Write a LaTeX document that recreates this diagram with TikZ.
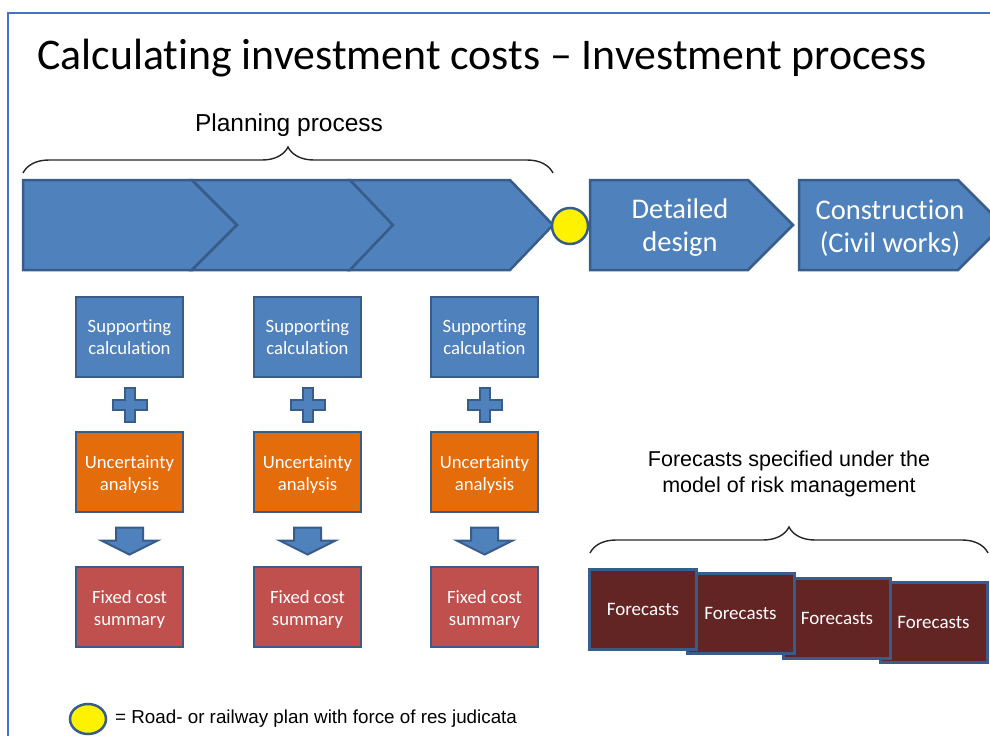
\documentclass[tikz,border=0pt]{standalone}
\usepackage{fontspec}
\setmainfont{Carlito}[Ligatures=NoCommon]
\newfontfamily\arialfont{Liberation Sans}
\usetikzlibrary{shapes.geometric,decorations.pathreplacing,calc}

\definecolor{boxblue}{HTML}{4F81BD}
\definecolor{edgeblue}{HTML}{385D8A}
\definecolor{boxorange}{HTML}{E46C0A}
\definecolor{boxred}{HTML}{C0504D}
\definecolor{forered}{HTML}{632523}
\definecolor{frameblue}{HTML}{4472C4}

\tikzset{
  calcbox/.style={draw=edgeblue, line width=2.5pt, minimum width=107pt, minimum height=80pt,
    inner sep=0pt, text=white, align=center, font=\fontsize{18.7}{22.5}\selectfont},
  supbox/.style={calcbox, fill=boxblue},
  uncbox/.style={calcbox, fill=boxorange},
  fixbox/.style={calcbox, fill=boxred},
  forebox/.style={calcbox, fill=forered, line width=3pt, font=\fontsize{19}{22}\selectfont},
  chev/.style={fill=boxblue, draw=edgeblue, line width=2.5pt},
  chevtext/.style={text=white, align=center, font=\fontsize{28.5}{33}\selectfont},
  blockshape/.style={fill=boxblue, draw=edgeblue, line width=2pt},
  curly/.style={decorate, decoration={brace, amplitude=26pt}, line width=1.4pt, draw=black!85},
  lawmark/.style={fill=yellow, draw=edgeblue, line width=2.5pt},
}
\newcommand{\lowstrut}{\rule{0pt}{18pt}}

\begin{document}
\begin{tikzpicture}[x=1pt,y=-1pt]
\useasboundingbox (0,0) rectangle (990,736);
\clip (0,0) rectangle (990,736);
\draw[frameblue, line width=1.5pt] (8,736) -- (8,13) -- (990,13);

\node[anchor=base west, inner sep=0pt, font=\fontsize{43.8}{50}\selectfont] (title) at (37,69)
  {Calculating investment costs -- Investment process};

% planning process
\node[anchor=base, font=\arialfont\fontsize{24.5}{28}\selectfont] (plan) at (289,131) {Planning process};
\draw[curly] (23,173) -- (553,173);
\draw[chev] (23,180) -- (192,180) -- (237,225) -- (192,270) -- (23,270) -- cycle;
\draw[chev] (192,180) -- (350,180) -- (393,225) -- (350,270) -- (192,270) -- (237,225) -- cycle;
\draw[chev] (350,180) -- (510,180) -- (553,225) -- (510,270) -- (350,270) -- (393,225) -- cycle;
\node[lawmark, circle, minimum size=36pt, inner sep=0pt] (res) at (570,226) {};

\draw[chev] (590,180) -- (748,180) -- (793,225) -- (748,270) -- (590,270) -- cycle;
\node[chevtext] (det) at (680,228) {Detailed\\design};
\draw[chev] (799,180) -- (958,180) -- (1003,225) -- (958,270) -- (799,270) -- cycle;
\node[chevtext] (con) at (890,228) {Construction\\(Civil works)};

\foreach \i/\xx in {1/129.5, 2/307.5, 3/484.5} {
  \node[supbox] (sup\i) at (\xx,337) {Supporting\\calculation};
  \node[uncbox] (unc\i) at (\xx,472) {\lowstrut Uncertainty\\analysis};
  \node[fixbox] (fix\i) at (\xx,607) {\lowstrut Fixed cost\\summary};
  \draw[blockshape] ($(sup\i.south)!0.5!(unc\i.north)$) ++(-5,-17) -- ++(10,0) -- ++(0,12)
    -- ++(12,0) -- ++(0,10) -- ++(-12,0) -- ++(0,12) -- ++(-10,0) -- ++(0,-12)
    -- ++(-12,0) -- ++(0,-10) -- ++(12,0) -- cycle;
  \draw[blockshape] ($(unc\i.south)!0.5!(fix\i.north)$) ++(-13.5,-12) -- ++(27,0) -- ++(0,13)
    -- ++(14.5,0) -- ++(-28,14) -- ++(-28,-14) -- ++(14.5,0) -- cycle;
}

% risk management forecasts
\node[align=center, font=\arialfont\fontsize{21.5}{26}\selectfont] (spec) at (789,474)
  {Forecasts specified under the\\model of risk management};
\draw[curly] (590,553) -- (988,553);
\foreach \i/\xx/\yy in {4/933.5/622.5, 3/837/618, 2/740.5/613.5, 1/643/609}
  \node[forebox] (fc\i) at (\xx,\yy) {Forecasts};

% legend
\node[lawmark, ellipse, minimum width=36pt, minimum height=30pt, inner sep=0pt] (key) at (88,719) {};
\node[anchor=west, inner sep=0pt, font=\arialfont\fontsize{18.8}{22}\selectfont] (keytext) at (115,719)
  {= Road- or railway plan with force of res judicata};
\end{tikzpicture}
\end{document}
